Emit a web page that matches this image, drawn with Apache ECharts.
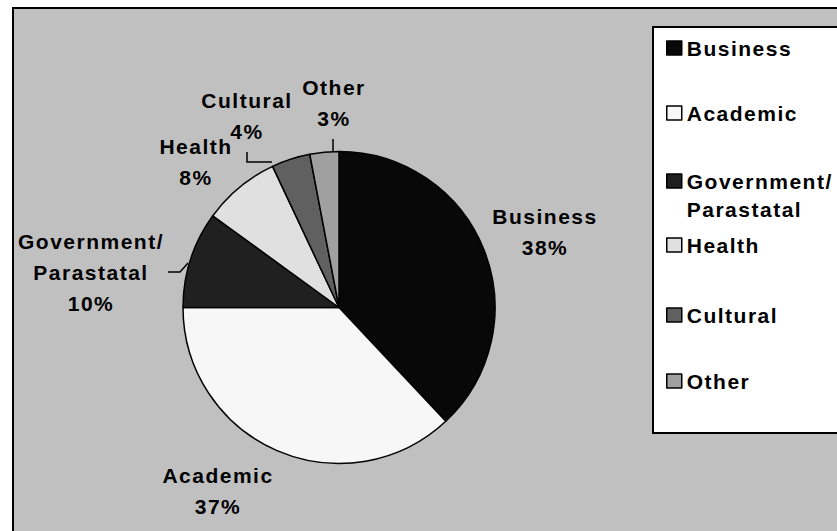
<!DOCTYPE html>
<html>
<head>
<meta charset="utf-8">
<script src="https://cdn.jsdelivr.net/npm/echarts@6/dist/echarts.min.js"></script>
<style>
  html, body { margin: 0; padding: 0; background: #ffffff; }
  #chart { width: 837px; height: 531px; }
  #chart text { letter-spacing: 1.5px; }
</style>
</head>
<body>
<div id="chart"></div>
<script>
// ---- data ----
const categories = ['Business', 'Academic', 'Government/Parastatal', 'Health', 'Cultural', 'Other'];
const shares = [38, 37, 10, 8, 4, 3];
const sliceColors = ['#080808', '#f7f7f7', '#202020', '#e0e0e0', '#606060', '#a0a0a0'];

// ---- layout (label placement like the original) ----
const labelSpots = [
  { x: 545, y: 232 },
  { x: 218, y: 491 },
  { x: 91, y: 272, line: [[188, 263], [180, 272], [168, 272]] },
  { x: 196, y: 162 },
  { x: 247, y: 116, line: [[272, 162], [247, 162], [247, 152]] },
  { x: 334, y: 103, line: [[333, 151], [333, 139]] }
];
const legendCenters = [48, 113, 181, 245, 315, 381];

const FONT = "'Liberation Sans', Arial, sans-serif";
const chart = echarts.init(document.getElementById('chart'), null, { renderer: 'svg' });

function breakName(n) { return n.replace('/', '/\n'); }

const legends = categories.map(function (name, i) {
  const multi = name.indexOf('/') >= 0;
  const lh = multi ? 28 : 22;
  const h = multi ? lh * 3 : lh;
  return {
    data: [name],
    left: 666,
    top: legendCenters[i] - h / 2,
    orient: 'vertical',
    padding: 0,
    icon: 'rect',
    itemWidth: 15,
    itemHeight: 14,
    selectedMode: false,
    itemStyle: { borderColor: '#000', borderWidth: 1.5 },
    formatter: function (n) { return multi ? '\n' + breakName(n) : n; },
    textStyle: { fontFamily: FONT, fontSize: 21, fontWeight: 'bold', color: '#000', lineHeight: lh }
  };
});

const option = {
  animation: false,
  backgroundColor: '#ffffff',
  graphic: [
    { type: 'rect', z: -10, shape: { x: 13, y: 8, width: 860, height: 560 },
      style: { fill: '#c0c0c0', stroke: '#000', lineWidth: 2 } },
    { type: 'rect', z: -5, shape: { x: 653, y: 27, width: 220, height: 406 },
      style: { fill: '#ffffff', stroke: '#000', lineWidth: 2 } }
  ],
  legend: legends,
  series: [{
    type: 'pie',
    center: [339, 307.5],
    radius: 156,
    startAngle: 90,
    clockwise: true,
    avoidLabelOverlap: false,
    emphasis: { disabled: true },
    itemStyle: { borderColor: '#000', borderWidth: 1.5 },
    label: {
      show: true,
      position: 'outside',
      fontFamily: FONT,
      fontSize: 21,
      fontWeight: 'bold',
      color: '#000',
      lineHeight: 31,
      align: 'center',
      formatter: function (p) { return breakName(p.name) + '\n' + Math.round(p.percent) + '%'; }
    },
    labelLine: { show: true, lineStyle: { color: '#000', width: 1.5 } },
    labelLayout: function (params) {
      const s = labelSpots[params.dataIndex];
      const r = { x: s.x, y: s.y, align: 'center', verticalAlign: 'middle' };
      if (s.line) r.labelLinePoints = s.line;
      return r;
    },
    data: categories.map(function (name, i) {
      return {
        name: name,
        value: shares[i],
        itemStyle: { color: sliceColors[i] },
        labelLine: { show: !!labelSpots[i].line }
      };
    })
  }]
};
chart.setOption(option);
</script>
</body>
</html>
